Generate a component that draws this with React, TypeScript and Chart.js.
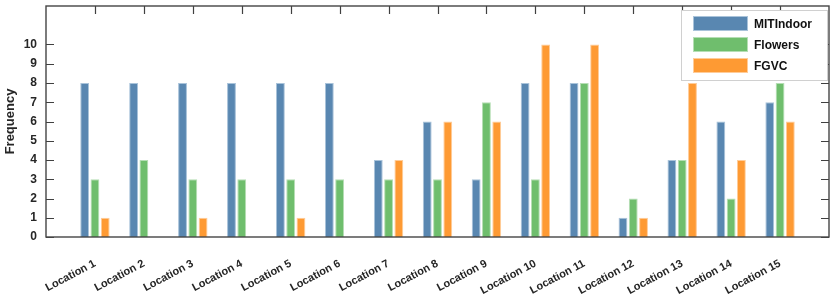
import React, { useEffect, useRef } from "react";
import { Chart, registerables } from "chart.js";

Chart.register(...registerables);

const categories = [
  "Location 1", "Location 2", "Location 3", "Location 4", "Location 5",
  "Location 6", "Location 7", "Location 8", "Location 9", "Location 10",
  "Location 11", "Location 12", "Location 13", "Location 14", "Location 15",
];
const mitIndoor = [8, 8, 8, 8, 8, 8, 4, 6, 3, 8, 8, 1, 4, 6, 7];
const flowers = [3, 4, 3, 3, 3, 3, 3, 3, 7, 3, 8, 2, 4, 2, 8];
const fgvc = [1, 0, 1, 0, 1, 0, 4, 6, 6, 10, 10, 1, 8, 4, 6];
const seriesNames = ["MITIndoor", "Flowers", "FGVC"];
const seriesColors = ["#5987b1", "#6fbe6d", "#fe9a33"];
const seriesBorders = ["#a9c3da", "#b5deb4", "#ffcc99"];
const yTicks = [0, 1, 2, 3, 4, 5, 6, 7, 8, 9, 10];

const FONT = "'Liberation Sans', Arial, Helvetica, sans-serif";
const TICK = 8;

const framePlugin = {
  id: "frame",
  afterDraw(chart: any) {
    const { ctx, chartArea } = chart;
    const { left, right, top, bottom } = chartArea;
    const x = chart.scales.x;
    const y = chart.scales.y;
    ctx.save();
    ctx.strokeStyle = "#404040";
    ctx.lineWidth = 1.2;
    for (let i = 1; i <= categories.length; i++) {
      const px = Math.round(x.getPixelForValue(i)) + 0.5;
      ctx.beginPath();
      ctx.moveTo(px, top);
      ctx.lineTo(px, top + TICK);
      ctx.stroke();
    }
    for (const v of yTicks) {
      const py = Math.round(y.getPixelForValue(v)) + 0.5;
      ctx.beginPath();
      ctx.moveTo(right, py);
      ctx.lineTo(right - TICK, py);
      ctx.moveTo(left, py);
      ctx.lineTo(left + TICK, py);
      ctx.stroke();
    }
    ctx.strokeStyle = "#454545";
    ctx.lineWidth = 1.4;
    ctx.strokeRect(left, top, right - left, bottom - top);

    const lx = 681, ly = 10, lw = 146, lh = 70;
    ctx.fillStyle = "#ffffff";
    ctx.fillRect(lx, ly, lw, lh);
    ctx.strokeStyle = "#d0d0d0";
    ctx.lineWidth = 1;
    ctx.strokeRect(lx + 0.5, ly + 0.5, lw, lh);
    ctx.font = `bold 12px ${FONT}`;
    ctx.textBaseline = "middle";
    ctx.textAlign = "left";
    seriesNames.forEach((name, i) => {
      const cy = 23.5 + i * 21;
      ctx.fillStyle = seriesColors[i];
      ctx.fillRect(693, cy - 7.5, 55, 15);
      ctx.strokeStyle = seriesBorders[i];
      ctx.strokeRect(693.5, cy - 7, 54, 14);
      ctx.fillStyle = "#111111";
      ctx.fillText(name, 754, cy + 1);
    });
    ctx.restore();
  },
};

export default function App() {
  const ref = useRef<HTMLCanvasElement>(null);
  useEffect(() => {
    document.body.style.margin = "0";
    const labels = ["", ...categories, ""];
    const pad = (arr: number[]) => [null, ...arr, null];
    const chart = new Chart(ref.current!, {
      type: "bar",
      data: {
        labels,
        datasets: [mitIndoor, flowers, fgvc].map((d, i) => ({
          label: seriesNames[i],
          data: pad(d) as any,
          backgroundColor: seriesColors[i],
          borderColor: seriesBorders[i],
          borderWidth: 1,
          borderSkipped: "bottom",
          barPercentage: 0.86,
          categoryPercentage: 0.63,
        })),
      },
      options: {
        responsive: false,
        animation: false,
        devicePixelRatio: 1,
        layout: { padding: { top: 6, right: 2, left: 0, bottom: 0 } },
        plugins: {
          legend: { display: false },
          tooltip: { enabled: false },
        },
        scales: {
          x: {
            type: "category",
            offset: false,
            grid: { display: false, drawTicks: false },
            border: { display: false },
            ticks: {
              autoSkip: false,
              minRotation: 28,
              maxRotation: 28,
              padding: 20,
              color: "#262626",
              font: { family: FONT, size: 11, weight: "bold" },
            },
            afterFit(scale: any) {
              scale.height = 66;
              scale.paddingLeft = 0;
              scale.paddingRight = 0;
              scale.paddingTop = 0;
              scale.paddingBottom = 0;
            },
          },
          y: {
            min: 0,
            max: 12,
            grid: { display: false, drawTicks: false },
            border: { display: false },
            ticks: {
              stepSize: 1,
              padding: 9,
              color: "#262626",
              font: { family: FONT, size: 12, weight: "bold" },
              callback: (v: any) => (Number(v) > 10 ? "" : String(v)),
            },
            title: {
              display: true,
              text: "Frequency",
              color: "#262626",
              padding: { top: 3, bottom: 0 },
              font: { family: FONT, size: 13, weight: "bold" },
            },
            afterFit(scale: any) {
              scale.width = 46;
              scale.paddingTop = 0;
              scale.paddingBottom = 0;
            },
          },
        },
      },
      plugins: [framePlugin],
    });
    return () => chart.destroy();
  }, []);
  return (
    <div style={{ width: 831, height: 303 }}>
      <canvas ref={ref} width={831} height={303} />
    </div>
  );
}
